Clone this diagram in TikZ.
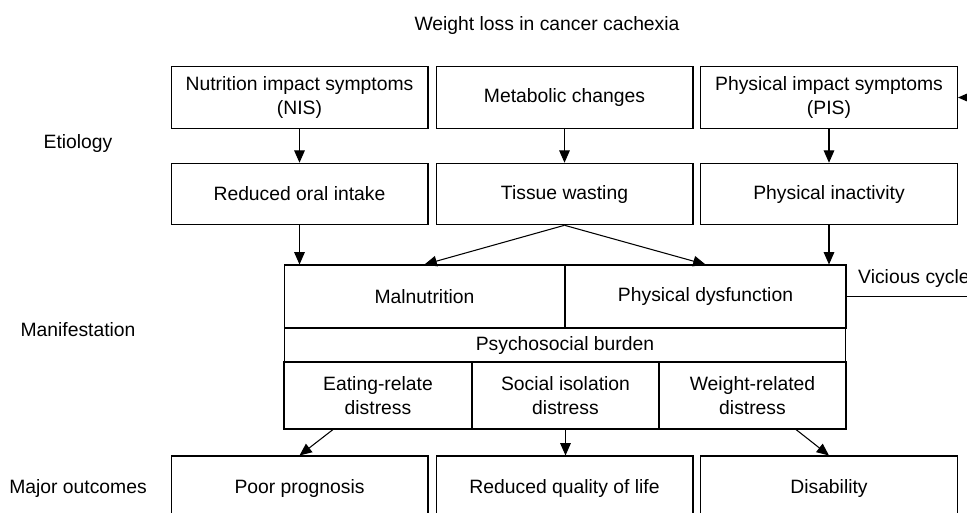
\documentclass[tikz,border=0pt]{standalone}
\usepackage{fontspec}
\setmainfont{Liberation Sans}
\usetikzlibrary{arrows.meta, positioning, calc}

\begin{document}
\begin{tikzpicture}[
        x=0.02cm, y=-0.02cm,
        font=\fontsize{11}{14}\selectfont,
        box/.style={draw, line width=0.6pt, align=center, inner sep=0pt},
        wide/.style={box, minimum width=5.14cm, minimum height=1.23cm},
        cell/.style={box, minimum width=3.74cm, minimum height=1.34cm},
        arr/.style={line width=0.6pt, -{Triangle[length=7pt,width=6pt]}},
        lab/.style={align=center}
      ]
        \useasboundingbox (0,0) rectangle (967,512);

        \node[lab] (title) at (547,25) {Weight loss in cancer cachexia};
        \node[lab] (etio) at (78,143) {Etiology};
        \node[lab] (mani) at (78,330) {Manifestation};
        \node[lab] (outc) at (78,488) {Major outcomes};

        % etiology
        \node[wide] (nis) at (299.5,97.5) {Nutrition impact symptoms\\(NIS)};
        \node[wide] (met) at (564.5,97.5) {Metabolic changes};
        \node[wide] (pis) at (829,97.5) {Physical impact symptoms\\(PIS)};
        \node[wide] (roi) at (299.5,194) {Reduced oral intake};
        \node[wide] (tw) at (564.5,194) {Tissue wasting};
        \node[wide] (pi) at (829,194) {Physical inactivity};

        % manifestation
        \node[box, minimum width=5.62cm, minimum height=1.26cm] (mal) at (424.5,296.5) {Malnutrition};
        \node[box, minimum width=5.62cm, minimum height=1.26cm] (pd) at (705.5,296.5) {Physical dysfunction};
        \node[box, minimum width=11.24cm, minimum height=0.68cm] (psy) at (565,345) {Psychosocial burden};
        \node[cell, minimum width=3.76cm] (ed) at (378,395.5) {Eating-relate\\distress};
        \node[cell] (si) at (565.5,395.5) {Social isolation\\distress};
        \node[cell] (wd) at (752.5,395.5) {Weight-related\\distress};

        % outcomes
        \node[wide, minimum height=1.28cm] (pp) at (299.5,488) {Poor prognosis};
        \node[wide, minimum height=1.28cm] (rq) at (564.5,488) {Reduced quality of life};
        \node[wide, minimum height=1.28cm] (dis) at (829,488) {Disability};

        \draw[arr] (nis) -- (roi);
        \draw[arr] (met) -- (tw);
        \draw[arr] (pis) -- (pi);
        \draw[arr] (roi) -- (roi |- mal.north);
        \draw[arr] (tw.south) -- (mal.north);
        \draw[arr] (tw.south) -- (pd.north);
        \draw[arr] (pi) -- (pi |- pd.north);
        \draw[arr] ([xshift=-0.9cm]ed.south) -- (pp.north);
        \draw[arr] (si.south) -- (si.south |- rq.north);
        \draw[arr] ([xshift=0.87cm]wd.south) -- (dis.north);

        % vicious cycle, runs off the right edge
        \coordinate (loop) at (990,200);
        \draw[arr] (pd.east) -| (loop) |- (pis.east);
        \node[lab, anchor=west] (vc) at (852,278) {Vicious cycle};
      \end{tikzpicture}
\end{document}
